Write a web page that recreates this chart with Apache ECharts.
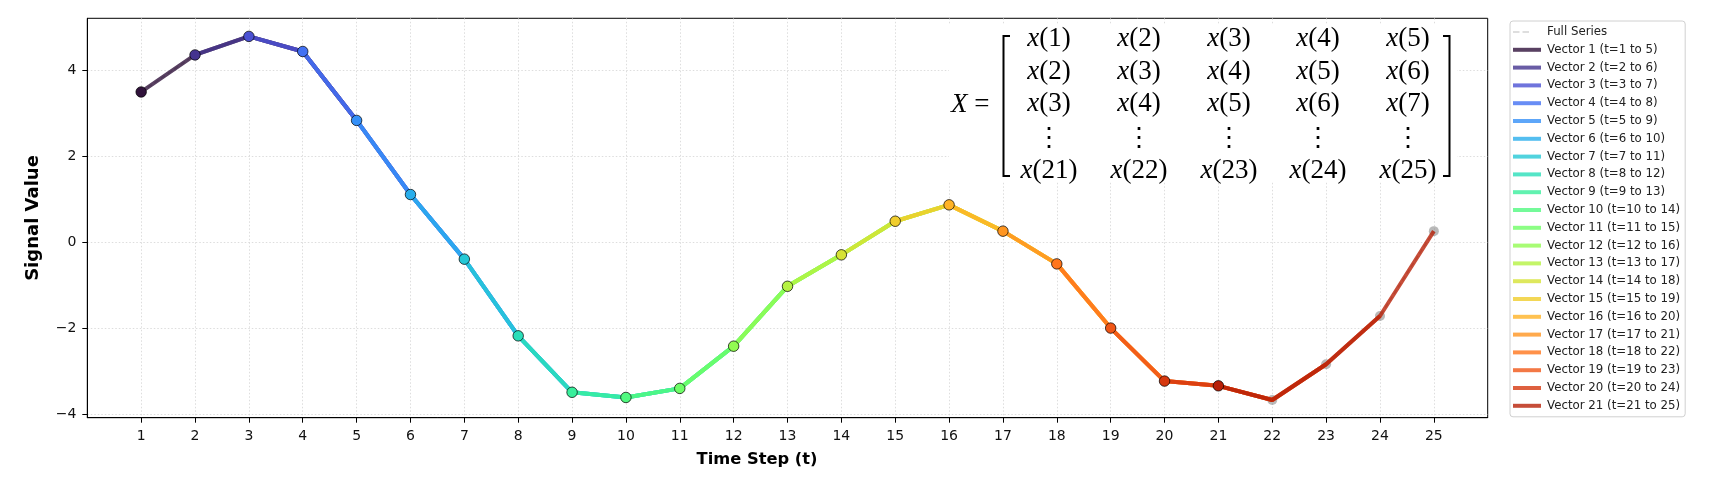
<!DOCTYPE html>
<html>
<head>
<meta charset="utf-8">
<script src="https://cdn.jsdelivr.net/npm/echarts@6/dist/echarts.min.js"></script>
<style>
  html, body { margin: 0; padding: 0; background: #fff; }
  #chart { width: 1726px; height: 478px; }
</style>
</head>
<body>
<div id="chart"></div>
<script>
// ---------------- data ----------------
const timeSteps = [1,2,3,4,5,6,7,8,9,10,11,12,13,14,15,16,17,18,19,20,21,22,23,24,25];
const signal = [3.49, 4.35, 4.78, 4.43, 2.83, 1.11, -0.39, -2.17, -3.48, -3.60, -3.39, -2.41,
                -1.02, -0.29, 0.49, 0.87, 0.26, -0.50, -1.99, -3.22, -3.33, -3.66, -2.83, -1.71, 0.26];
const windowSize = 5;
const xTickLabels = [1,2,3,4,5,6,7,8,9,10,11,12,13,14,15,16,17,18,19,20,21,22,23,24,25];
const yTickLabels = [-4, -2, 0, 2, 4];
const matrixRowStarts = [1, 2, 3, null, 21]; // null = vertical dots row

// ---------------- colours (turbo colormap) ----------------
function turbo(x) {
  x = Math.max(0, Math.min(1, x));
  if (x < 0.01) return 'rgb(48,18,59)'; // exact turbo start (polynomial is off here)
  const r = 0.13572138 + x*(4.61539260 + x*(-42.66032258 + x*(132.13108234 + x*(-152.94239396 + x*59.28637943))));
  const g = 0.09140261 + x*(2.19418839 + x*(4.84296658 + x*(-14.18503333 + x*(4.27729857 + x*2.82956604))));
  const b = 0.10667330 + x*(12.64194608 + x*(-60.58204836 + x*(110.36276771 + x*(-89.90310912 + x*27.34824973))));
  const c = v => Math.round(Math.max(0, Math.min(1, v)) * 255);
  return 'rgb(' + c(r) + ',' + c(g) + ',' + c(b) + ')';
}
const nVectors = timeSteps.length - windowSize + 1;
const vecColors = [];
for (let k = 0; k < nVectors; k++) vecColors.push(turbo(0.9 * k / (nVectors - 1)));

// ---------------- series ----------------
const LINE_ICON = 'path://M0,0L28,0L28,4L0,4Z';
const DASH_ICON = 'path://M0,0L0.01,0L0.01,0.01Z M0,1.3h6.5v1.4h-6.5z M9.5,1.3h6.5v1.4h-6.5z M27.99,3.99L28,4L27.99,4Z';
const fullData = timeSteps.map((t, i) => [t, signal[i]]);
const series = [];
series.push({
  name: 'Full Series', type: 'line', data: fullData, symbol: 'none', showSymbol: false,
  lineStyle: { color: '#808080', width: 1.5, type: [5, 3], opacity: 0.45 },
  itemStyle: { color: '#808080' }, z: 1, silent: true
});
series.push({
  name: 'fullMarkers', type: 'scatter', data: fullData, symbol: 'circle', symbolSize: 10,
  itemStyle: { color: '#808080', opacity: 0.55 }, z: 1, silent: true
});
const legendData = [{ name: 'Full Series', icon: DASH_ICON, itemStyle: { color: '#d4d4d4', opacity: 1 } }];
const markerData = [];
for (let k = 0; k < nVectors; k++) {
  const name = 'Vector ' + (k + 1) + ' (t=' + timeSteps[k] + ' to ' + timeSteps[k + windowSize - 1] + ')';
  const d = [];
  for (let j = 0; j < windowSize; j++) d.push([timeSteps[k + j], signal[k + j]]);
  series.push({
    name: name, type: 'line', data: d, symbol: 'none', showSymbol: false, z: 2, silent: true,
    lineStyle: { color: vecColors[k], width: 4, opacity: 0.8 },
    itemStyle: { color: vecColors[k] }
  });
  legendData.push({ name: name, icon: LINE_ICON, itemStyle: { color: vecColors[k], opacity: 0.8 } });
  markerData.push({ value: [timeSteps[k], signal[k]], itemStyle: { color: vecColors[k] } });
}
series.push({
  name: 'vecMarkers', type: 'scatter', data: markerData, symbol: 'circle', symbolSize: 10.5, z: 3,
  itemStyle: { borderColor: '#000', borderWidth: 0.7, opacity: 1 }, silent: true
});

// ---------------- matrix annotation ----------------
const SERIF = '"Liberation Serif", "DejaVu Serif", serif';
const colX = [1049, 1139, 1229, 1318, 1408];
const rowY = [39, 72, 104, 139, 171];
const graphic = [];
graphic.push({ type: 'rect', shape: { x: 949, y: 24, width: 508, height: 158 }, style: { fill: '#fff' }, z: 1, silent: true });
graphic.push({
  type: 'text', x: 951, y: 105, z: 10, silent: true,
  style: { text: '{i|X} =', fontSize: 27, fontFamily: SERIF, fill: '#000', align: 'left', verticalAlign: 'middle',
           rich: { i: { fontStyle: 'italic', fontSize: 27, fontFamily: SERIF, fill: '#000' } } }
});
matrixRowStarts.forEach((s, r) => {
  for (let c = 0; c < windowSize; c++) {
    const txt = s === null ? '⋮' : '{i|x}(' + (s + c) + ')';
    graphic.push({
      type: 'text', x: colX[c], y: rowY[r], z: 10, silent: true,
      style: { text: txt, fontSize: s === null ? 26 : 27, fontFamily: s === null ? '"DejaVu Serif", serif' : SERIF,
               fill: '#000', align: 'center', verticalAlign: 'middle',
               rich: { i: { fontStyle: 'italic', fontSize: 27, fontFamily: SERIF, fill: '#000' } } }
    });
  }
});
graphic.push({ type: 'polyline', shape: { points: [[1010, 36], [1003.5, 36], [1003.5, 176], [1010, 176]] },
               style: { stroke: '#000', lineWidth: 2, fill: null }, z: 10, silent: true });
graphic.push({ type: 'polyline', shape: { points: [[1443, 36], [1449.5, 36], [1449.5, 176], [1443, 176]] },
               style: { stroke: '#000', lineWidth: 2, fill: null }, z: 10, silent: true });
// axis titles
graphic.push({ type: 'text', x: 757, y: 460, z: 10, silent: true,
  style: { text: 'Time Step (t)', fontSize: 16.3, fontWeight: 'bold', fontFamily: '"DejaVu Sans"', fill: '#000', align: 'center', verticalAlign: 'middle' } });
graphic.push({ type: 'text', x: 33, y: 218, rotation: Math.PI / 2, z: 10, silent: true,
  style: { text: 'Signal Value', fontSize: 18, fontWeight: 'bold', fontFamily: '"DejaVu Sans"', fill: '#000', align: 'center', verticalAlign: 'middle' } });

// ---------------- chart ----------------
const chart = echarts.init(document.getElementById('chart'), null, { renderer: 'canvas' });
const gridLine = { show: true, lineStyle: { color: '#d4d4d4', width: 0.8, type: [1.5, 2] } };
chart.setOption({
  animation: false,
  backgroundColor: '#fff',
  textStyle: { fontFamily: '"DejaVu Sans"' },
  grid: { left: 87.3, top: 18.3, right: 238.3, bottom: 60.3, show: true, borderColor: '#000', borderWidth: 1, backgroundColor: 'transparent', containLabel: false },
  xAxis: {
    type: 'value', min: 0, max: 26, interval: 1,
    axisLine: { show: true, onZero: false, lineStyle: { color: '#000', width: 1 } },
    axisTick: { show: true, inside: false, length: 5, lineStyle: { color: '#000', width: 1 }, customValues: xTickLabels },
    axisLabel: { show: true, customValues: xTickLabels, margin: 12, fontSize: 14, color: '#111', fontFamily: '"DejaVu Sans"' },
    splitLine: gridLine
  },
  yAxis: {
    type: 'value', min: -4.07, max: 5.2,
    axisLine: { show: true, onZero: false, lineStyle: { color: '#000', width: 1 } },
    axisTick: { show: true, inside: false, length: 5, lineStyle: { color: '#000', width: 1 }, customValues: yTickLabels },
    axisLabel: { show: true, customValues: yTickLabels, margin: 11, fontSize: 14, color: '#111', fontFamily: '"DejaVu Sans"',
                 formatter: v => (v < 0 ? '\u2212' + Math.abs(v) : String(v)) },
    splitLine: gridLine
  },
  legend: {
    orient: 'vertical', left: 1510, top: 21, data: legendData,
    itemWidth: 28, itemHeight: 4, itemGap: 3.8,
    padding: [4, 5, 4, 3],
    borderColor: '#d0d0d0', borderWidth: 1, borderRadius: 3, backgroundColor: '#fff',
    textStyle: { fontSize: 11.8, color: '#222', fontFamily: '"DejaVu Sans"', lineHeight: 14, padding: [0, 0, 0, 1] },
    selectedMode: false
  },
  graphic: graphic,
  series: series
});
</script>
</body>
</html>
